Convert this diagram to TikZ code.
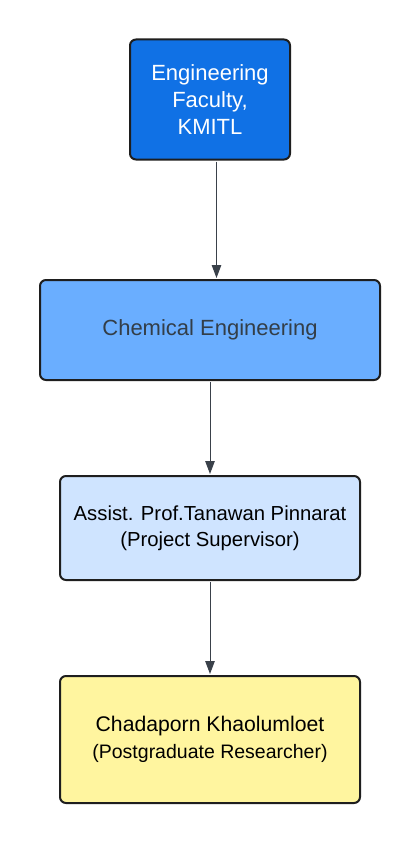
\documentclass[tikz,border=0pt]{standalone}
\usepackage{fontspec}
\setmainfont{Liberation Sans}
\usetikzlibrary{arrows.meta,calc}
\definecolor{dblue}{HTML}{1071E5}
\definecolor{mblue}{HTML}{6AAEFF}
\definecolor{lblue}{HTML}{CFE4FF}
\definecolor{lyellow}{HTML}{FFF59F}
\definecolor{edge}{HTML}{1E1E1E}
\definecolor{arrowc}{HTML}{3A414A}
\definecolor{grtext}{HTML}{333E48}
\tikzset{
  box/.style={draw=edge, line width=2pt, rounded corners=6pt, align=center, inner sep=0pt,
    font=\fontsize{22}{26.7}\selectfont},
  conn/.style={draw=arrowc, line width=1pt, -{Triangle[length=13pt,width=9.5pt]}}
}
\begin{document}
\begin{tikzpicture}[x=1pt,y=1pt]
\useasboundingbox (0,0) rectangle (420,-843);
\fill[white] (0,0) rectangle (420,-843);
\node[box, fill=dblue, text=white, minimum width=160pt, minimum height=120pt] (b1) at (210,-99.5) {Engineering\\Faculty,\\KMITL};
\node[box, fill=mblue, text=grtext, minimum width=340pt, minimum height=100pt] (b2) at (210,-330) {Chemical Engineering};
\node[box, fill=lblue, text=black, minimum width=300pt, minimum height=104pt, font=\fontsize{20.3}{26.5}\selectfont] (b3) at (210,-528) {Assist. Prof.Tanawan Pinnarat\\(Project Supervisor)};
\node[box, fill=lyellow, text=black, minimum width=300pt, minimum height=127pt, font=\fontsize{21.2}{26.7}\selectfont] (b4) at (210,-739.5) {Chadaporn Khaolumloet\\{\fontsize{19.5}{26.7}\selectfont(Postgraduate Researcher)}};
\draw[conn] ($(b1.south)+(6.5,-1)$) -- ($(b2.north)+(6.5,1)$);
\draw[conn] ($(b2.south)+(0,-1)$) -- ($(b3.north)+(0,1)$);
\draw[conn] ($(b3.south)+(0,-1)$) -- ($(b4.north)+(0,1)$);
\end{tikzpicture}
\end{document}
